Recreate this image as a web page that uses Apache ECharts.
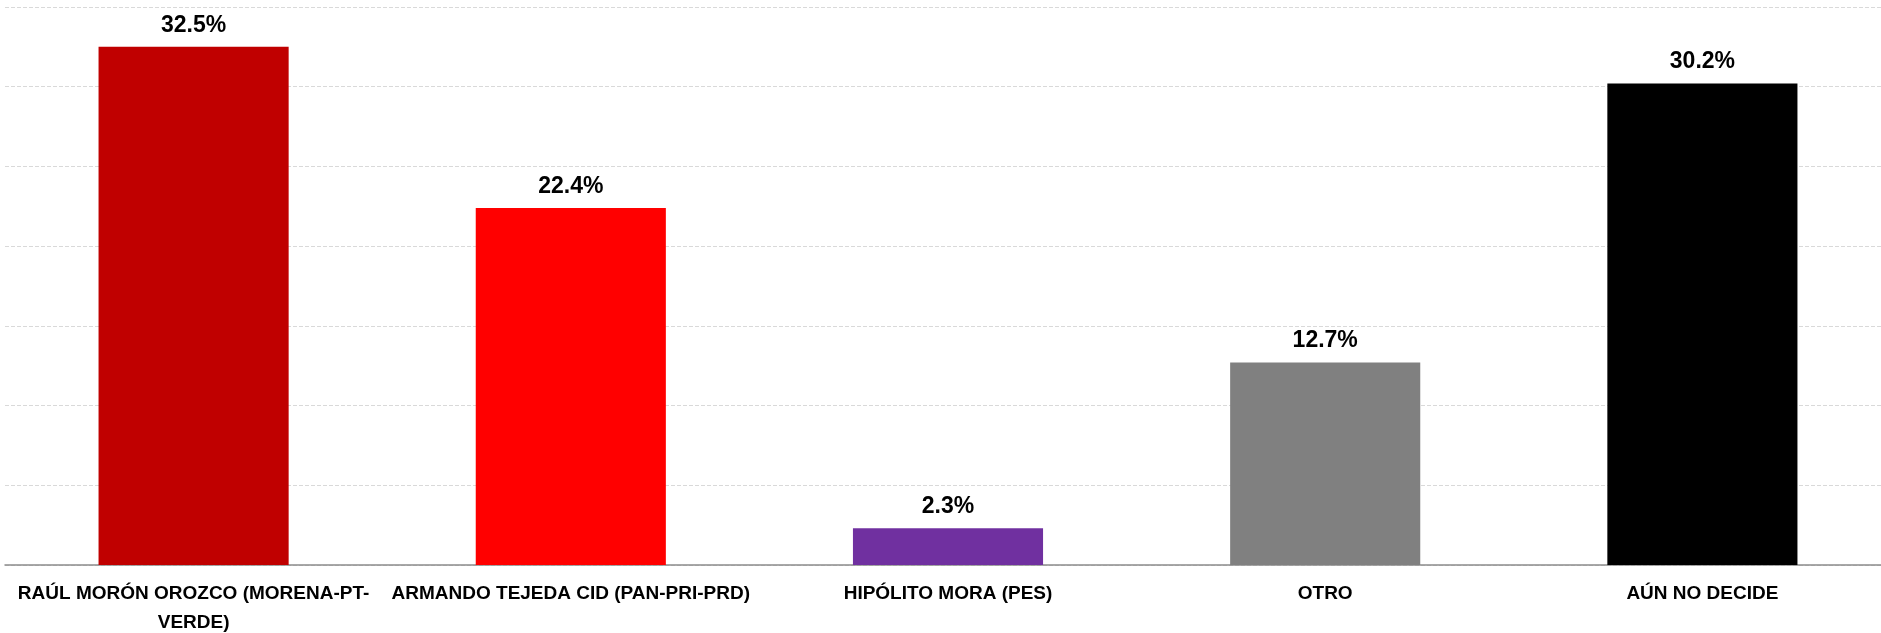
<!DOCTYPE html>
<html>
<head>
<meta charset="utf-8">
<script src="https://cdn.jsdelivr.net/npm/echarts@6/dist/echarts.min.js"></script>
<style>html,body{margin:0;padding:0;background:#fff;}#c{width:1881px;height:633px;}</style>
</head>
<body>
<div id="c"></div>
<script>
const categories = ['RAÚL MORÓN OROZCO (MORENA-PT-\nVERDE)', 'ARMANDO TEJEDA CID (PAN-PRI-PRD)', 'HIPÓLITO MORA (PES)', 'OTRO', 'AÚN NO DECIDE'];
const values = [32.5, 22.4, 2.3, 12.7, 30.2];
const colors = ['#C00000', '#FF0000', '#7030A0', '#808080', '#000000'];

const chart = echarts.init(document.getElementById('c'));
chart.setOption({
  animation: false,
  grid: { left: 5, right: -10, top: 7, bottom: 68, containLabel: false, outerBoundsMode: 'none' },
  xAxis: {
    type: 'category',
    data: categories,
    axisLine: { lineStyle: { color: '#8c8c8c', width: 1.5 } },
    axisTick: { length: 7, lineStyle: { color: '#8c8c8c' } },
    axisLabel: {
      interval: 0,
      margin: 14,
      fontFamily: 'Liberation Sans',
      fontWeight: 'bold',
      fontSize: 19,
      lineHeight: 29,
      color: '#000'
    }
  },
  yAxis: {
    type: 'value',
    min: 0,
    max: 35,
    interval: 5,
    axisLabel: { show: false },
    axisLine: { show: false },
    axisTick: { show: false },
    splitLine: { lineStyle: { color: '#d9d9d9', type: [4, 2], width: 1 } }
  },
  series: [{
    type: 'bar',
    data: values.map((v, i) => ({ value: v, itemStyle: { color: colors[i] } })),
    barWidth: '50.4%',
    label: {
      show: true,
      position: 'top',
      distance: 10,
      formatter: p => p.value.toFixed(1) + '%',
      fontFamily: 'Liberation Sans',
      fontWeight: 'bold',
      fontSize: 23,
      color: '#000'
    }
  }]
});
</script>
</body>
</html>
